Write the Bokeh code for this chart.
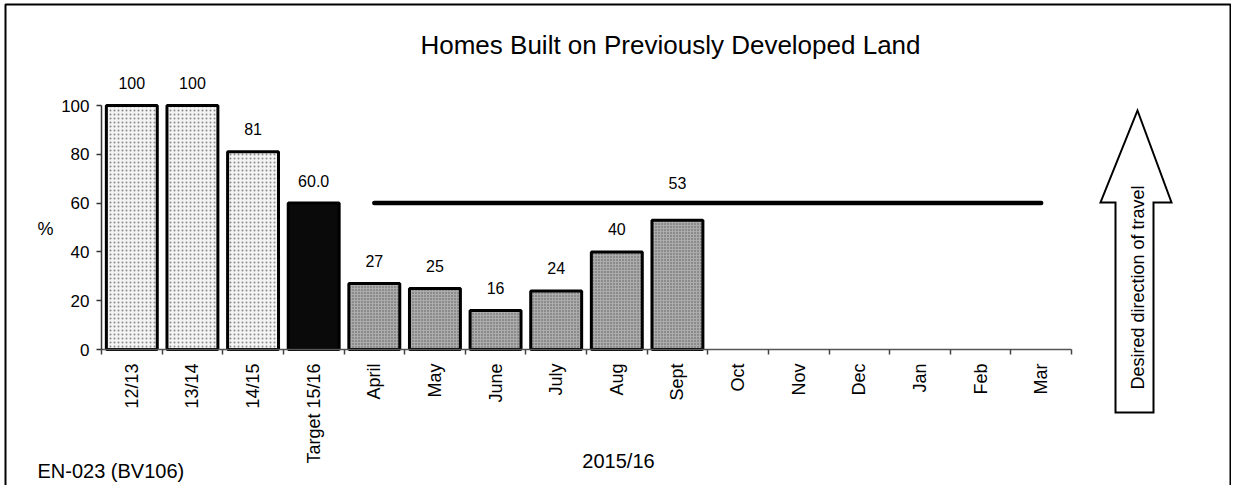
import math
from bokeh.plotting import figure
from bokeh.models import Range1d, FixedTicker, Label
from bokeh.core.properties import value
from bokeh.embed import file_html
from bokeh.resources import INLINE

# ---- data ----
categories = ["12/13", "13/14", "14/15", "Target 15/16", "April", "May", "June", "July",
              "Aug", "Sept", "Oct", "Nov", "Dec", "Jan", "Feb", "Mar"]
history_values = [100, 100, 81]
target_value = [60.0]
month_names = ["April", "May", "June", "July", "Aug", "Sept", "Oct", "Nov", "Dec", "Jan", "Feb", "Mar"]
month_values = [27, 25, 16, 24, 40, 53, None, None, None, None, None, None]
target_line = [60, 60, 60, 60, 60, 60, 60, 60, 60, 60, 60, 60]
y_ticks = [0, 20, 40, 60, 80, 100]
title_text = "Homes Built on Previously Developed Land"
x_title = "2015/16"
y_title = "%"
code_text = "EN-023 (BV106)"
arrow_text = "Desired direction of travel"

# ---- layout constants (pixels) ----
W, H = 1231, 485
ORIGIN_X, ORIGIN_Y = 101, 349     # pixel position of the axes origin (from top-left)
PX_PER_CAT = 60.625
PX_PER_UNIT = 2.44
FONT = "Liberation Sans"

def dx(px):
    return (px - ORIGIN_X) / PX_PER_CAT

def dy(py):
    return (ORIGIN_Y - py) / PX_PER_UNIT

p = figure(width=W, height=H, x_range=Range1d(dx(0), dx(W)), y_range=Range1d(dy(H), dy(0)),
           output_backend="svg", toolbar_location=None,
           min_border_left=0, min_border_right=0, min_border_top=0, min_border_bottom=0)
p.outline_line_color = None
p.xgrid.visible = False
p.ygrid.visible = False
p.background_fill_color = "white"
p.border_fill_color = "white"

centers = [i + 0.5 for i in range(len(categories))]
idx = {c: i for i, c in enumerate(categories)}

# history bars (light dotted)
hx = [centers[i] for i in range(len(history_values))]
p.vbar(x=hx, top=history_values, width=0.84, bottom=0,
       fill_color="#f3f3f3", hatch_pattern="dot", hatch_color="#8a8a8a", hatch_scale=4,
       line_color="black", line_width=3)
# target bar
tx = [centers[idx["Target 15/16"]]]
p.vbar(x=tx, top=target_value, width=0.84, bottom=0,
       fill_color="#0a0a0a", line_color="black", line_width=3)
# monthly bars
mx = [centers[idx[m]] for m in month_names]
mvx = [x for x, v in zip(mx, month_values) if v is not None]
mvv = [v for v in month_values if v is not None]
p.vbar(x=mvx, top=mvv, width=0.84, bottom=0,
       fill_color="#acacac", hatch_pattern="dot", hatch_color="#5a5a5a", hatch_scale=3,
       line_color="black", line_width=3)

# target line
p.line(x=mx, y=target_line, line_color="black", line_width=4.5, line_cap="round")

# data labels
OFF = 9.2
lab_x, lab_y, lab_t = [], [], []
for x, v in zip(hx, history_values):
    lab_x.append(x); lab_y.append(v + OFF); lab_t.append(str(v))
lab_x.append(tx[0]); lab_y.append(target_value[0] + OFF); lab_t.append(f"{target_value[0]:.1f}")
for x, v, t in zip(mx, month_values, target_line):
    if v is None:
        continue
    y = v + OFF
    if abs(y - t) < 5:
        y = t + 8.4
    lab_x.append(x); lab_y.append(y); lab_t.append(str(v))
p.text(x=lab_x, y=lab_y, text=lab_t, text_font=value(FONT), text_font_size="16px",
       text_align="center", text_baseline="middle", text_color="black")

# axis lines drawn manually (to limit their extent)
p.segment(x0=[0], y0=[0], x1=[len(categories)], y1=[0], line_color="#555555", line_width=1.5)
p.segment(x0=[0], y0=[0], x1=[0], y1=[max(y_ticks)], line_color="#333333", line_width=1.5)

# axes, fixed at the data origin
xa = p.xaxis[0]
xa.fixed_location = 0
xa.ticker = FixedTicker(ticks=centers, minor_ticks=list(range(len(categories) + 1)))
xa.major_label_overrides = {c: lab for c, lab in zip(centers, categories)}
xa.major_label_orientation = math.pi / 2
xa.axis_line_color = None
xa.major_tick_out = 0
xa.major_tick_in = 0
xa.minor_tick_out = 5
xa.minor_tick_in = 0
xa.minor_tick_line_color = "#444444"
xa.minor_tick_line_width = 1.5
xa.major_label_standoff = 9
xa.major_label_text_font = FONT
xa.major_label_text_font_size = "18px"
xa.major_label_text_color = "black"

ya = p.yaxis[0]
ya.fixed_location = 0
ya.ticker = FixedTicker(ticks=y_ticks, minor_ticks=[])
ya.axis_line_color = None
ya.major_tick_out = 5
ya.major_tick_in = 0
ya.major_tick_line_color = "#333333"
ya.major_tick_line_width = 1.5
ya.major_label_standoff = 7
ya.major_label_text_font = FONT
ya.major_label_text_font_size = "17px"
ya.major_label_text_color = "black"

# texts
p.add_layout(Label(x=dx(670), y=dy(44), text=title_text, text_font=FONT, text_font_size="26px",
                   text_align="center", text_baseline="middle", text_color="black"))
p.add_layout(Label(x=dx(45), y=dy(228), text=y_title, text_font=FONT, text_font_size="18px",
                   text_align="center", text_baseline="middle", text_color="black"))
p.add_layout(Label(x=dx(37), y=dy(470), text=code_text, text_font=FONT, text_font_size="20px",
                   text_align="left", text_baseline="middle", text_color="black"))
p.add_layout(Label(x=dx(618), y=dy(460), text=x_title, text_font=FONT, text_font_size="20px",
                   text_align="center", text_baseline="middle", text_color="black"))

# arrow
ax = [1137, 1171, 1153, 1153, 1115, 1115, 1100]
ay = [110, 202, 202, 412, 412, 202, 202]
p.patch(x=[dx(a) for a in ax], y=[dy(b) for b in ay],
        fill_color="white", line_color="black", line_width=2, line_join="miter")
p.add_layout(Label(x=dx(1137), y=dy(287), text=arrow_text, text_font=FONT, text_font_size="18px",
                   angle=math.pi / 2, text_align="center", text_baseline="middle", text_color="black"))

# outer frame
p.quad(left=[dx(5)], right=[dx(W - 1)], top=[dy(4)], bottom=[dy(H + 20)],
       fill_alpha=0, line_color="black", line_width=2)

open("out.html", "w").write(file_html(p, INLINE))
